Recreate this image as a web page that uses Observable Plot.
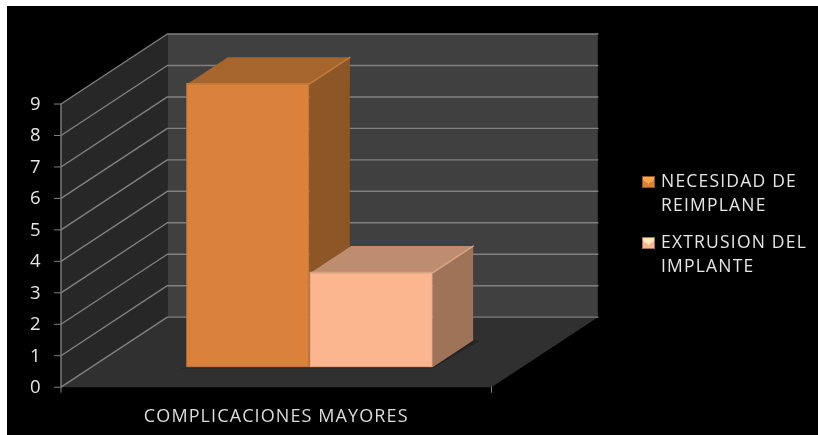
<!DOCTYPE html>
<html><head><meta charset="utf-8">
<script src="https://cdn.jsdelivr.net/npm/d3@7"></script>
<script src="https://cdn.jsdelivr.net/npm/@observablehq/plot@0.6"></script>
<style>
html,body{margin:0;padding:0;background:#fff}
#box{position:relative;width:818px;height:435px;overflow:hidden}
#box svg{position:absolute;left:0;top:0;background:transparent;filter:blur(.35px)}
#bg{position:absolute;left:7px;top:6px;right:0;bottom:0;background:#000}
#legend{position:absolute;left:642px;top:168px;color:#e6e6e6;font:17.5px/24px "Open Sans",sans-serif;letter-spacing:1.2px;filter:blur(.35px)}
.it{position:relative;padding-left:19px;margin-bottom:13px;white-space:nowrap}
.sw{position:absolute;left:0;top:8px;width:13px;height:12px;box-sizing:border-box;border:1px solid}
.cat text,text.cat{letter-spacing:1.1px}
</style></head><body>
<div id="box"><div id="bg"></div><div id="legend"></div></div>
<script>
const category = "COMPLICACIONES MAYORES";
const seriesNames = [["NECESIDAD DE","REIMPLANE"],["EXTRUSION DEL","IMPLANTE"]];
const seriesValues = [9, 3];
const yTicks = [0,1,2,3,4,5,6,7,8,9];
const frontColors = ["#da813c","#fbb58f"];
const topColors = ["#a6652c","#be8c6e"];
const sideColors = ["#8c5627","#9e7358"];
const edgeColors = ["#c27a3c","#d9a283"];

// oblique projection of the chart's box
const depthX = 0.247, depthY = 2.226;
const proj = (x, v, d) => ({x: x + d*depthX, y: v + d*depthY});
const yMax = 9, xMax = 1;
const barD0 = 0.286, barD1 = 0.667, barX0 = 0.2228, barW = 0.2834, barGap = 0.003;

const wall = "#404040", side = "#272727", floor = "#303030", gridC = "#808080";
const face = (pts, fill, extra={}) => Plot.line(pts, {x:"x", y:"y", fill, stroke:"none", ...extra});
const marks = [];
marks.push(face([proj(0,0,1),proj(1,0,1),proj(1,yMax,1),proj(0,yMax,1)], wall));
marks.push(face([proj(0,0,0),proj(0,0,1),proj(0,yMax,1),proj(0,yMax,0)], side));
marks.push(face([proj(0,0,0),proj(1,0,0),proj(1,0,1),proj(0,0,1)], floor));
for (const t of yTicks) {
  marks.push(Plot.line([proj(0,t,0),proj(0,t,1),proj(1,t,1)], {x:"x",y:"y",stroke:gridC,strokeWidth:1.4}));
}
// bar shadow on the floor
const x0s = seriesValues.map((_,i)=>barX0+i*(barW+barGap));
marks.push(face([proj(x0s[0]-0.02,-0.04,barD0),proj(x0s[1]+barW,-0.04,barD0),proj(x0s[1]+barW+0.016,0,barD1),proj(x0s[1]+barW,0,barD1)], "#252525"));
// draw back-to-front per series
seriesValues.forEach((v,i)=>{
  const a=x0s[i], b=a+barW;
  marks.push(face([proj(b,0,barD0),proj(b,0,barD1),proj(b,v,barD1),proj(b,v,barD0)], sideColors[i]));
  marks.push(face([proj(a,v,barD0),proj(b,v,barD0),proj(b,v,barD1),proj(a,v,barD1)], topColors[i]));
  const p0=proj(a,0,barD0), p1=proj(b,v,barD0);
  marks.push(Plot.rect([{x1:p0.x,x2:p1.x,y1:p0.y,y2:p1.y}],{x1:"x1",x2:"x2",y1:"y1",y2:"y2",fill:frontColors[i],stroke:d3.color(frontColors[i]).darker(0.2).formatHex(),strokeWidth:1}));
  marks.push(Plot.line([proj(a,v,barD0),proj(b,v,barD0),proj(b,v,barD1)],{x:"x",y:"y",stroke:edgeColors[i],strokeWidth:1.6}));
});
marks.push(Plot.axisY(yTicks,{tickSize:6.5,stroke:gridC,fontSize:18.5,fill:"#e6e6e6",tickPadding:14,label:null,fontFamily:"Open Sans"}));
marks.push(Plot.ruleX([0],{y1:0,y2:yMax,stroke:gridC,strokeWidth:1.4}));
marks.push(Plot.axisX([0,1],{tickSize:6,stroke:gridC,tickFormat:()=>"",label:null}));
marks.push(Plot.text([category],{x:()=>0.5,y:()=>0,text:d=>d,dy:29,dx:0,fill:"#dcdcdc",fontSize:18,fontFamily:"Open Sans",textAnchor:"middle",className:"cat"}));

const chart = Plot.plot({
  width:818,height:435,
  marginLeft:60.5,marginRight:818-491,marginTop:33.5,marginBottom:435-386.7,
  style:{background:"transparent",overflow:"visible"},
  x:{domain:[0,xMax],range:[60.5,491],clamp:false,axis:null},
  y:{domain:[0,yMax+depthY],range:[386.7,33.5],axis:null},
  marks
});
document.getElementById("box").insertBefore(chart, document.getElementById("legend"));

const legend=document.getElementById("legend");
seriesNames.forEach((lines,i)=>{
  const it=document.createElement("div");it.className="it";
  const sw=document.createElement("span");sw.className="sw";
  const light=d3.color(frontColors[i]).brighter(0.7).formatHex();
  sw.style.background=`conic-gradient(at 50% 70%, ${light} 0 52deg, ${frontColors[i]} 52deg 308deg, ${light} 308deg)`;
  sw.style.borderColor=sideColors[i];
  it.appendChild(sw);
  lines.forEach(l=>{const d=document.createElement("div");d.textContent=l;it.appendChild(d);});
  legend.appendChild(it);
});
</script></body></html>
